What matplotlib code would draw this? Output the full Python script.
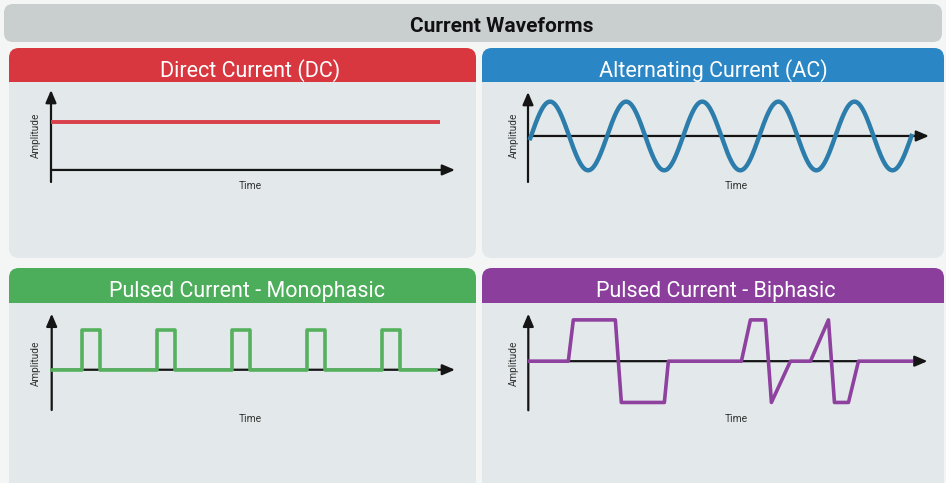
import numpy as np
import matplotlib.pyplot as plt
from matplotlib.patches import FancyBboxPatch, Rectangle

plt.rcParams['font.family'] = ['Roboto', 'DejaVu Sans']

W, H = 946, 483

# --- data ---
title = "Current Waveforms"
panel_titles = ["Direct Current (DC)", "Alternating Current (AC)",
                "Pulsed Current - Monophasic", "Pulsed Current - Biphasic"]

# DC: constant level
dc_time = [0.0, 10.0]
dc_level = [1.0, 1.0]

# AC: sine, time in cycles
ac_start, ac_end = -0.01, 5.0
ac_amplitude = 1.0

# Monophasic pulses
mono_starts = [4.0, 14.0, 24.0, 34.0, 44.0]
mono_width = 2.4
mono_height = 1.0
mono_end = 51.3

# Biphasic waveform vertices
bi_time = [0.1, 4.0, 4.5, 8.7, 9.3, 13.6, 14.0, 21.3, 22.2, 23.7, 24.3,
           26.2, 28.2, 30.0, 30.6, 32.0, 33.0, 38.3]
bi_amp = [0, 0, 1, 1, -1, -1, 0, 0, 1, 1, -1,
          0, 0, 1, -1, -1, 0, 0]

# --- colours ---
bg = '#f4f6f6'
bar_col = '#c9cecf'
body_col = '#e3e9ea'
head_cols = ['#d8373f', '#2b86c5', '#4cad5a', '#8b3e9c']
line_cols = ['#d9404a', '#2c7dab', '#55b15d', '#8e419f']

fig = plt.figure(figsize=(W / 100, H / 100), dpi=100, facecolor=bg)
bgax = fig.add_axes([0, 0, 1, 1])
bgax.set_xlim(0, W)
bgax.set_ylim(H, 0)
bgax.axis('off')


def rbox(x0, y0, x1, y1, col, r=10):
    bgax.add_patch(FancyBboxPatch((x0, y0), x1 - x0, y1 - y0,
                                  boxstyle=f"round,pad=0,rounding_size={r}",
                                  fc=col, ec='none'))


# title bar
rbox(4, 4, 942, 42, bar_col, r=9)
bgax.text(502, 24, title, ha='center', va='center_baseline', fontsize=15,
          fontweight='bold', color='#111111')

# panels: x0, y0, x1, y1, header bottom, text centre x
panels = [(9, 48, 476, 258, 82, 250),
          (482, 48, 944, 258, 82, 713),
          (9, 268, 476, 495, 303, 247),
          (482, 268, 944, 495, 303, 716)]

for (x0, y0, x1, y1, hb, tx), hc, name in zip(panels, head_cols, panel_titles):
    rbox(x0, y0, x1, y1, body_col)
    rbox(x0, y0, x1, hb, hc)
    bgax.add_patch(Rectangle((x0, hb - 10), x1 - x0, 10, fc=hc, ec='none'))
    bgax.text(tx, (y0 + hb) / 2 + 3, name, ha='center', va='center_baseline',
              fontsize=15.5, color='white')


def px_axes(left, right, top, bottom):
    return fig.add_axes([left / W, 1 - bottom / H, (right - left) / W,
                         (bottom - top) / H])


def draw_axes(ax, xlim, ylim, amp_xy, time_xy):
    ax.set_xlim(*xlim)
    ax.set_ylim(*ylim)
    ax.axis('off')
    ax.patch.set_alpha(0)
    ap = dict(arrowstyle='-|>,head_length=0.75,head_width=0.32',
              color='#151515', lw=1.6, shrinkA=0, shrinkB=0)
    ax.annotate('', xy=(xlim[0], ylim[1]), xytext=(xlim[0], ylim[0]),
                arrowprops=ap, zorder=1)
    ax.annotate('', xy=(xlim[1], 0), xytext=(xlim[0], 0),
                arrowprops=ap, zorder=1)
    bgax.text(*amp_xy, "Amplitude", rotation=90, ha='center', va='center',
              fontsize=7.2, color='#333333')
    bgax.text(*time_xy, "Time", ha='center', va='center',
              fontsize=7.4, color='#333333')


# DC
ax1 = px_axes(51, 455, 90, 182)
draw_axes(ax1, (0, 10.39), (-0.25, 1.66), (36, 135), (250, 186))
ax1.plot(dc_time, dc_level, color=line_cols[0], lw=2.8, zorder=3,
         clip_on=False, solid_capstyle='butt')

# AC
ax2 = px_axes(528, 929, 92, 182)
draw_axes(ax2, (-0.04, 5.23), (-1.34, 1.28), (514, 135), (736, 186))
t = np.linspace(ac_start, ac_end, 600)
ax2.plot(t, ac_amplitude * np.sin(2 * np.pi * t), color=line_cols[1],
         lw=3.2, zorder=3, clip_on=False)

# Monophasic
ax3 = px_axes(51.7, 455, 313.7, 410)
draw_axes(ax3, (0, 53.8), (-1.02, 1.42), (36, 363), (250, 419))
mx, my = [0.0], [0.0]
for s in mono_starts:
    mx += [s, s, s + mono_width, s + mono_width]
    my += [0, mono_height, mono_height, 0]
mx.append(mono_end)
my.append(0)
ax3.plot(mx, my, color=line_cols[2], lw=2.6, zorder=3, clip_on=False)

# Biphasic
ax4 = px_axes(528.3, 927.5, 313.7, 410.3)
draw_axes(ax4, (0, 39.9), (-1.19, 1.15), (514, 363), (736, 419))
ax4.plot(bi_time, bi_amp, color=line_cols[3], lw=2.6, zorder=3,
         clip_on=False)

fig.savefig('out.png', dpi=100, facecolor=bg)
